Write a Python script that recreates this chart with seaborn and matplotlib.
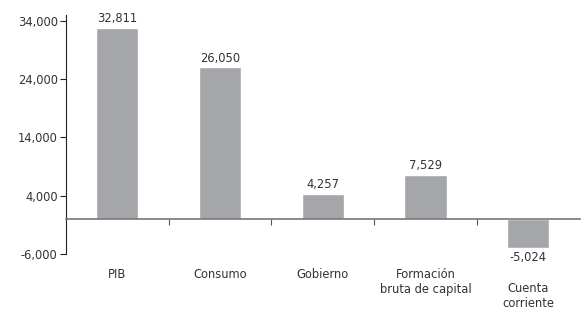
import matplotlib
matplotlib.use("Agg")
import matplotlib.pyplot as plt
import seaborn as sns
import pandas as pd

# data
categorias = ["PIB", "Consumo", "Gobierno", "Formación\nbruta de capital", "Cuenta\ncorriente"]
valores = [32811, 26050, 4257, 7529, -5024]
yticks = [-6000, 4000, 14000, 24000, 34000]

sns.set_style("white")
plt.rcParams['font.family'] = ['DejaVu Sans']

df = pd.DataFrame({"cat": categorias, "val": valores})

fig = plt.figure(figsize=(5.81, 3.09), dpi=100)
ax = fig.add_axes([0.1136, 0.178, 0.884, 0.773])

sns.barplot(data=df, x="cat", y="val", color="#a4a6a9", width=0.41,
            saturation=1, ax=ax)

ax.set_ylim(-6000, 35000)
ax.set_xlim(-0.5, 4.5)
ax.set_yticks(yticks)
ax.set_yticklabels([f"{v:,}" for v in yticks], fontsize=8.3, color="#333333")
ax.tick_params(axis="y", direction="out", length=4, width=0.8, color="#222222", pad=2, left=True)

# bottom spine at zero, separators as minor ticks
ax.spines["bottom"].set_position(("data", 0))
ax.spines["bottom"].set_color("#777777")
ax.spines["bottom"].set_linewidth(1.2)
ax.spines["left"].set_color("#222222")
ax.spines["left"].set_linewidth(0.8)
ax.spines["top"].set_visible(False)
ax.spines["right"].set_visible(False)
ax.set_xticks([0.5, 1.5, 2.5, 3.5], minor=True)
ax.tick_params(axis="x", which="minor", direction="out", length=4, width=0.8, color="#555555", bottom=True)
ax.tick_params(axis="x", which="major", length=0, pad=35, labelsize=8.3, labelcolor="#333333")
for lbl in ax.get_xticklabels():
    lbl.set_verticalalignment("top")
    lbl.set_linespacing(1.2)
# the last label sits lower, under the negative bar
ax.xaxis.get_major_ticks()[4].set_pad(45)

ax.set_xlabel("")
ax.set_ylabel("")

for bar, v in zip(ax.patches, valores):
    x = bar.get_x() + bar.get_width() / 2
    if v >= 0:
        ax.annotate(f"{v:,}", (x, v), xytext=(0, 2), textcoords="offset points",
                    ha="center", va="bottom", fontsize=8.3, color="#333333")
    else:
        ax.annotate(f"{v:,}", (x, v), xytext=(0, -2), textcoords="offset points",
                    ha="center", va="top", fontsize=8.3, color="#333333")

fig.savefig("out.png", dpi=100)
